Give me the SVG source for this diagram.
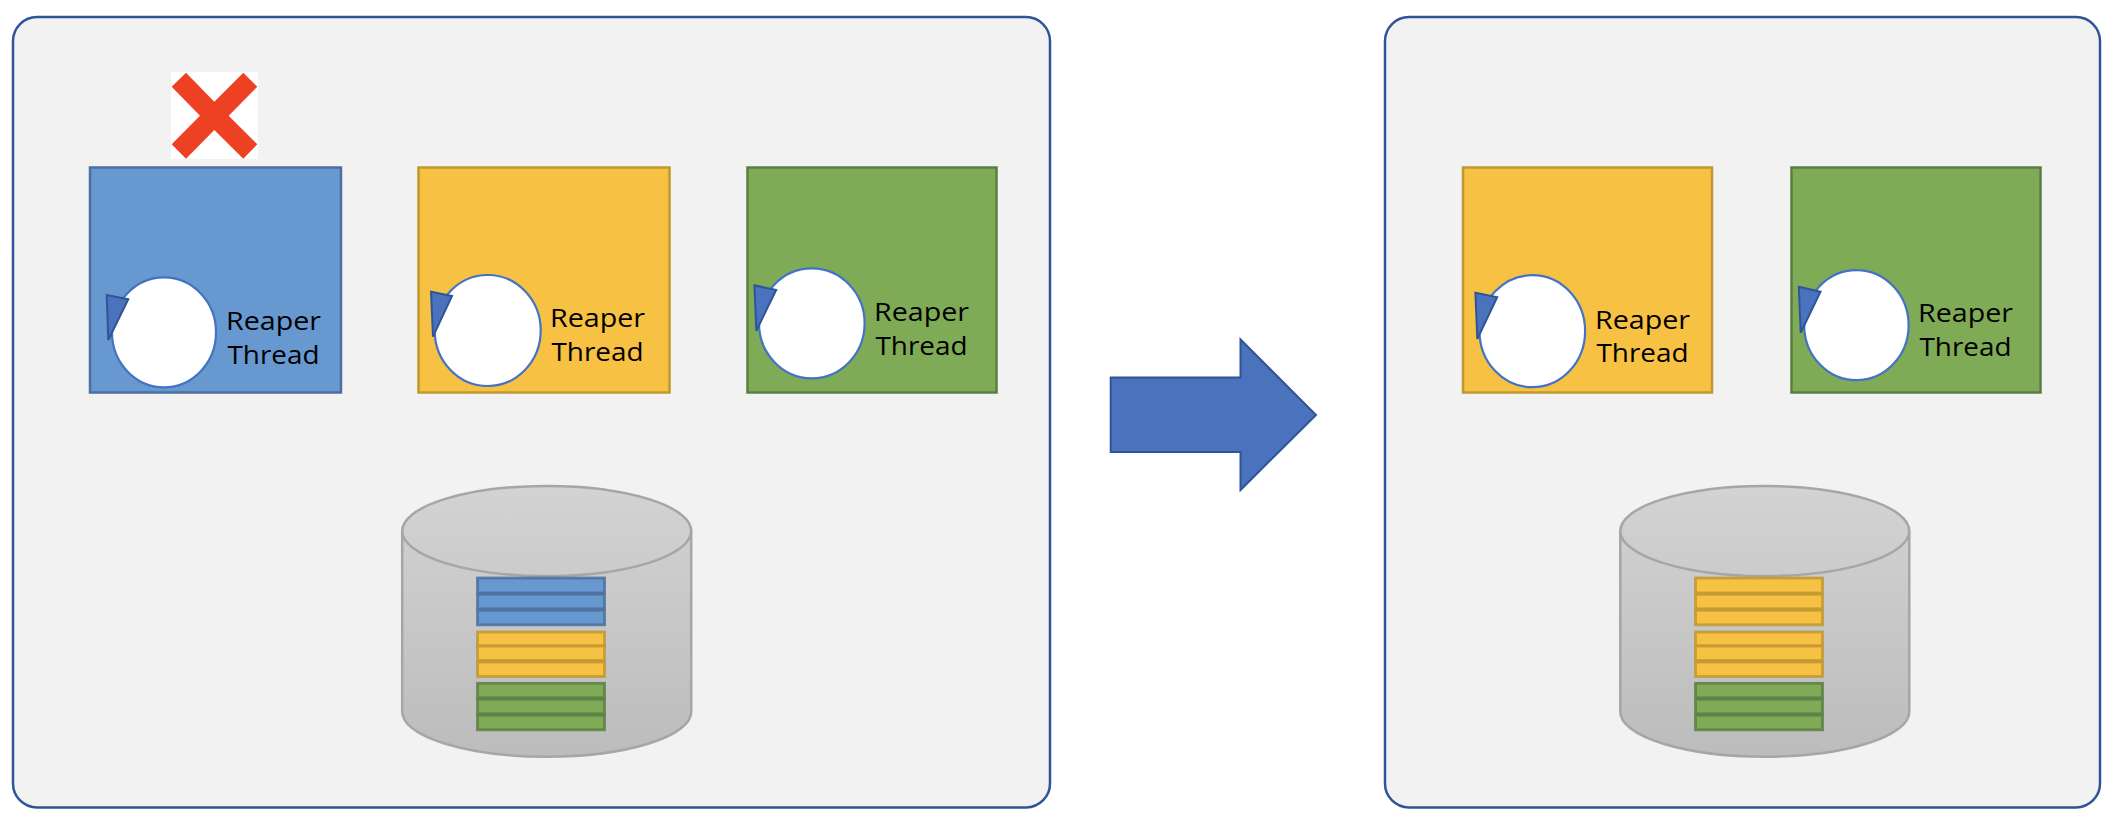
<svg xmlns="http://www.w3.org/2000/svg" width="2116" height="822" viewBox="0 0 2116 822">
<style>
.panel{fill:#f2f2f2;stroke:#2f5597;stroke-width:2.5}
.blue{fill:#6799d0;stroke:#4b6f9e;stroke-width:2.5}
.yellow{fill:#f7c143;stroke:#bf982f;stroke-width:2.5}
.green{fill:#7fab57;stroke:#5d7e42;stroke-width:2.5}
.row rect{stroke-width:2.8;stroke-opacity:.85}
.wheel{fill:#fff;stroke:#4472c4;stroke-width:2.2}
.tip{fill:#4a72bd;stroke:#2f5597;stroke-width:2}
.cyl{fill:url(#cylGrad);stroke:#a6a6a6;stroke-width:2.5}
.lbl{font-family:"Open Sans","Noto Sans",sans-serif;font-size:26px;fill:#000}
</style>
<defs>
<linearGradient id="cylGrad" gradientUnits="userSpaceOnUse" x1="0" y1="486" x2="0" y2="757">
<stop offset="0" stop-color="#d3d3d3"/><stop offset="1" stop-color="#bcbcbc"/>
</linearGradient>
</defs>
<rect width="2116" height="822" fill="#fff"/>
<g id="panel-left"><rect class="panel" x="13" y="17" width="1037" height="790.5" rx="24" ry="24"/></g>
<g id="panel-right"><rect class="panel" x="1385" y="17" width="715" height="790.5" rx="24" ry="24"/></g>
<g id="cross">
<rect x="171" y="72" width="86.7" height="87" fill="#fff"/>
<polygon fill="#ee4023" points="186,72.7 214.3,101.7 243.3,72.7 257.3,86.7 228.7,115.7 257.3,144.3 243.3,158.7 214.3,130 186,158.7 171.7,144.3 200,115.7 171.7,86.7"/>
</g>
<g id="worker-blue">
<rect class="blue" x="90" y="167.5" width="251" height="225"/>
<ellipse class="wheel" cx="164" cy="332.3" rx="52" ry="55"/>
<polygon class="tip" points="106.7,295 128.3,299.3 108.3,340"/>
<text class="lbl" x="226" y="330" textLength="95" lengthAdjust="spacingAndGlyphs">Reaper</text><text class="lbl" x="227.5" y="363.5" textLength="92" lengthAdjust="spacingAndGlyphs">Thread</text>
</g>
<g id="worker-yellow">
<rect class="yellow" x="418.5" y="167.5" width="251" height="225"/>
<ellipse class="wheel" cx="487.7" cy="330.5" rx="53" ry="55.5"/>
<polygon class="tip" points="431,291.7 452,296 433,336.7"/>
<text class="lbl" x="550" y="327" textLength="95" lengthAdjust="spacingAndGlyphs">Reaper</text><text class="lbl" x="551.5" y="360.5" textLength="92" lengthAdjust="spacingAndGlyphs">Thread</text>
</g>
<g id="worker-green">
<rect class="green" x="747.5" y="167.5" width="249" height="225"/>
<ellipse class="wheel" cx="811.8" cy="323.3" rx="52.8" ry="55"/>
<polygon class="tip" points="754.4,285.3 776.2,290 756.3,330.7"/>
<text class="lbl" x="874" y="321" textLength="95" lengthAdjust="spacingAndGlyphs">Reaper</text><text class="lbl" x="875.5" y="354.5" textLength="92" lengthAdjust="spacingAndGlyphs">Thread</text>
</g>
<g id="store-left">
<path class="cyl" d="M402.2 531V711.7A144.5 45 0 0 0 691.2 711.7V531"/>
<ellipse class="cyl" cx="546.7" cy="531" rx="144.5" ry="45"/>
<g class="blue row"><rect x="477.5" y="578" width="127" height="15"/><rect x="477.5" y="594.3" width="127" height="14.5"/><rect x="477.5" y="610.3" width="127" height="14.5"/></g>
<g class="yellow row"><rect x="477.5" y="632" width="127" height="14"/><rect x="477.5" y="646" width="127" height="14.5"/><rect x="477.5" y="662" width="127" height="14.5"/></g>
<g class="green row"><rect x="477.5" y="683.3" width="127" height="14.5"/><rect x="477.5" y="699.3" width="127" height="14.5"/><rect x="477.5" y="715.3" width="127" height="14.5"/></g>
</g>
<g id="worker-yellow-2">
<rect class="yellow" x="1463" y="167.5" width="249" height="225"/>
<ellipse class="wheel" cx="1532.3" cy="331.2" rx="52.8" ry="56"/>
<polygon class="tip" points="1475.4,292.7 1497.2,297.3 1477.3,339"/>
<text class="lbl" x="1595" y="328.5" textLength="95" lengthAdjust="spacingAndGlyphs">Reaper</text><text class="lbl" x="1596.5" y="362" textLength="92" lengthAdjust="spacingAndGlyphs">Thread</text>
</g>
<g id="worker-green-2">
<rect class="green" x="1791.5" y="167.5" width="249" height="225"/>
<ellipse class="wheel" cx="1856.4" cy="325.2" rx="52.2" ry="55"/>
<polygon class="tip" points="1798.8,286.7 1820.5,291.7 1800.7,332.7"/>
<text class="lbl" x="1918" y="322" textLength="95" lengthAdjust="spacingAndGlyphs">Reaper</text><text class="lbl" x="1919.5" y="355.5" textLength="92" lengthAdjust="spacingAndGlyphs">Thread</text>
</g>
<g id="store-right">
<path class="cyl" d="M1620.3 531V711.7A144.5 45 0 0 0 1909.3 711.7V531"/>
<ellipse class="cyl" cx="1764.8" cy="531" rx="144.5" ry="45"/>
<g class="yellow row"><rect x="1695.5" y="578" width="127" height="15"/><rect x="1695.5" y="594.3" width="127" height="14.5"/><rect x="1695.5" y="610.3" width="127" height="14.5"/></g>
<g class="yellow row"><rect x="1695.5" y="632" width="127" height="14"/><rect x="1695.5" y="646" width="127" height="14.5"/><rect x="1695.5" y="662" width="127" height="14.5"/></g>
<g class="green row"><rect x="1695.5" y="683.3" width="127" height="14.5"/><rect x="1695.5" y="699.3" width="127" height="14.5"/><rect x="1695.5" y="715.3" width="127" height="14.5"/></g>
</g>
<g id="connectors">
<polygon fill="#4a72bd" stroke="#2f5597" stroke-width="2" points="1110.7,377.5 1240.5,377.5 1240.5,339.5 1316,415 1240.5,490 1240.5,452 1110.7,452"/>
</g>
</svg>
